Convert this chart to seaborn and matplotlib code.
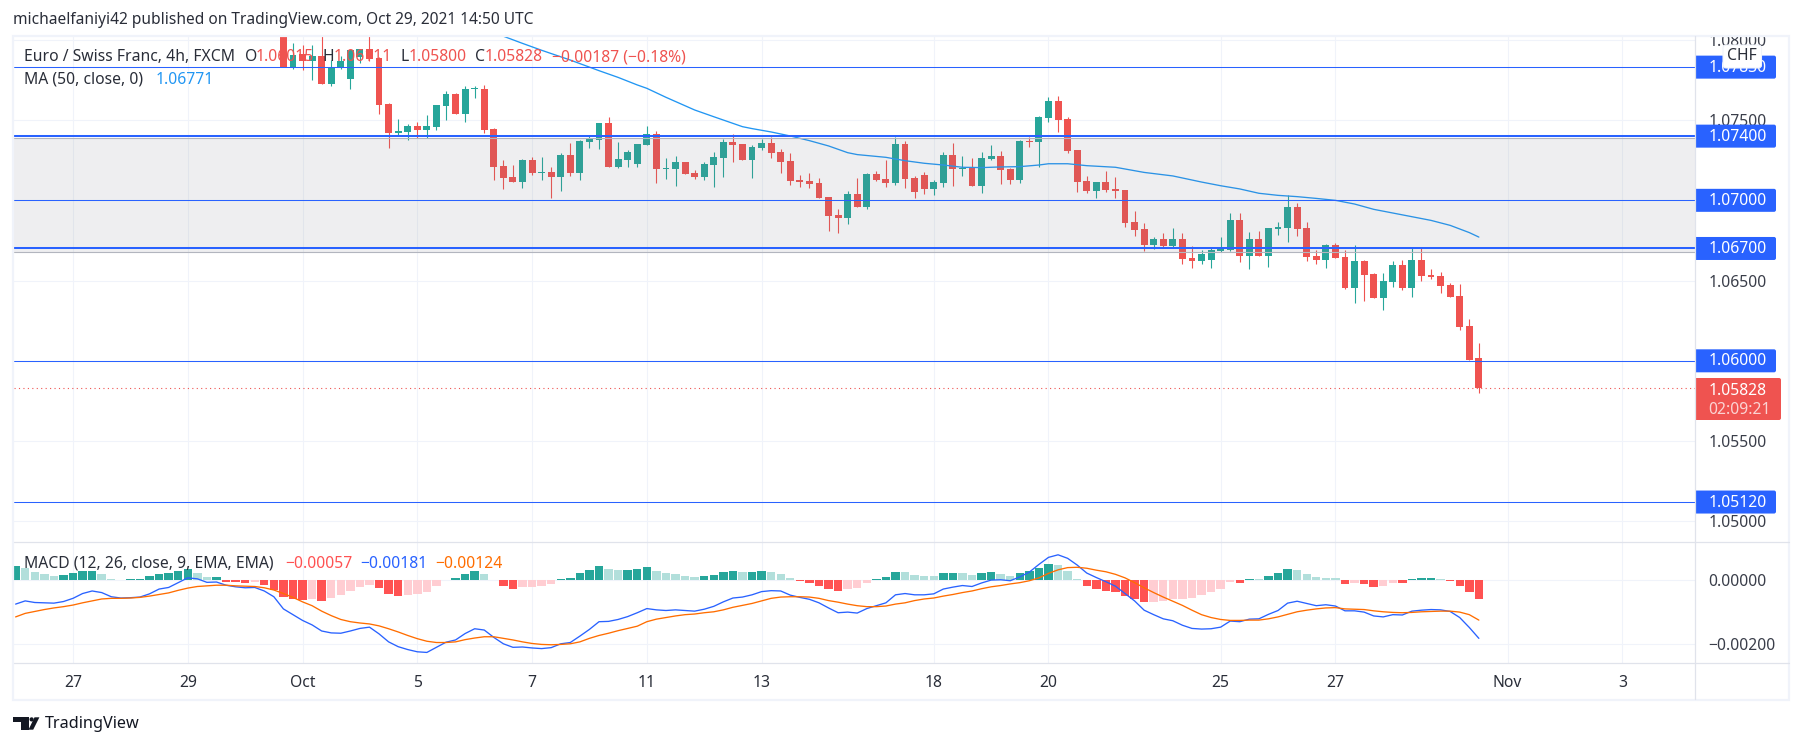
import numpy as np
import pandas as pd
import matplotlib
matplotlib.use("Agg")
import matplotlib.pyplot as plt
import seaborn as sns
from matplotlib.patches import Rectangle, FancyBboxPatch, Polygon, Circle
from matplotlib.transforms import Bbox

# 4h candles, bar number 0 is the start of Sep 27
candle_first_bar = 22
candle_open = [
    1.08124, 1.07829, 1.07910, 1.07868, 1.07899, 1.07727, 1.07827, 1.07758, 1.07895, 1.07941,
    1.07887, 1.07600, 1.07420, 1.07426, 1.07463, 1.07438, 1.07457, 1.07588, 1.07663, 1.07538,
    1.07692, 1.07694, 1.07444, 1.07214, 1.07145, 1.07114, 1.07251, 1.07170, 1.07177, 1.07145,
    1.07282, 1.07170, 1.07363, 1.07376, 1.07482, 1.07208, 1.07251, 1.07226, 1.07345, 1.07413,
    1.07195, 1.07195, 1.07239, 1.07170, 1.07145, 1.07220, 1.07264, 1.07363, 1.07351, 1.07251,
    1.07326, 1.07357, 1.07301, 1.07245, 1.07127, 1.07120, 1.07108, 1.07021, 1.06909, 1.06890,
    1.07039, 1.06958, 1.07164, 1.07133, 1.07108, 1.07351, 1.07139, 1.07158, 1.07071, 1.07108,
    1.07282, 1.07195, 1.07201, 1.07089, 1.07258, 1.07276, 1.07195, 1.07127, 1.07370, 1.07363,
    1.07513, 1.07619, 1.07507, 1.07314, 1.07120, 1.07058, 1.07114, 1.07071, 1.07064, 1.06865,
    1.06821, 1.06722, 1.06759, 1.06715, 1.06759, 1.06641, 1.06622, 1.06628, 1.06684, 1.06691,
    1.06877, 1.06653, 1.06759, 1.06653, 1.06821, 1.06828, 1.06958, 1.06828, 1.06653, 1.06628,
    1.06722, 1.06647, 1.06454, 1.06622, 1.06541, 1.06391, 1.06491, 1.06597, 1.06454, 1.06628,
    1.06535, 1.06529, 1.06472, 1.06404, 1.06217, 1.06015,
]
candle_high = [
    1.08165, 1.07978, 1.07968, 1.07968, 1.08041, 1.07874, 1.07899, 1.07937, 1.07941, 1.08041,
    1.07891, 1.07604, 1.07507, 1.07476, 1.07488, 1.07532, 1.07594, 1.07681, 1.07669, 1.07712,
    1.07712, 1.07719, 1.07451, 1.07251, 1.07220, 1.07258, 1.07270, 1.07270, 1.07208, 1.07295,
    1.07357, 1.07376, 1.07401, 1.07482, 1.07519, 1.07363, 1.07314, 1.07351, 1.07463, 1.07432,
    1.07264, 1.07276, 1.07239, 1.07189, 1.07239, 1.07301, 1.07382, 1.07413, 1.07351, 1.07345,
    1.07382, 1.07395, 1.07320, 1.07295, 1.07158, 1.07170, 1.07139, 1.07021, 1.06946, 1.07058,
    1.07139, 1.07170, 1.07183, 1.07251, 1.07395, 1.07370, 1.07152, 1.07177, 1.07127, 1.07301,
    1.07357, 1.07276, 1.07264, 1.07301, 1.07345, 1.07307, 1.07201, 1.07376, 1.07395, 1.07525,
    1.07642, 1.07650, 1.07519, 1.07314, 1.07152, 1.07114, 1.07183, 1.07145, 1.07064, 1.06934,
    1.06859, 1.06772, 1.06796, 1.06828, 1.06796, 1.06715, 1.06691, 1.06709, 1.06772, 1.06921,
    1.06921, 1.06803, 1.06809, 1.06828, 1.06865, 1.07033, 1.06983, 1.06865, 1.06691, 1.06728,
    1.06734, 1.06691, 1.06722, 1.06628, 1.06547, 1.06547, 1.06622, 1.06628, 1.06709, 1.06709,
    1.06572, 1.06553, 1.06485, 1.06479, 1.06261, 1.06111,
]
candle_low = [
    1.07829, 1.07816, 1.07812, 1.07750, 1.07727, 1.07714, 1.07818, 1.07696, 1.07854, 1.07868,
    1.07540, 1.07328, 1.07407, 1.07378, 1.07390, 1.07390, 1.07438, 1.07501, 1.07538, 1.07488,
    1.07638, 1.07422, 1.07127, 1.07071, 1.07114, 1.07077, 1.07158, 1.07127, 1.07015, 1.07058,
    1.07154, 1.07127, 1.07326, 1.07320, 1.07208, 1.07201, 1.07208, 1.07208, 1.07345, 1.07108,
    1.07133, 1.07089, 1.07164, 1.07133, 1.07127, 1.07083, 1.07145, 1.07239, 1.07251, 1.07139,
    1.07314, 1.07264, 1.07170, 1.07096, 1.07083, 1.07077, 1.07015, 1.06809, 1.06796, 1.06853,
    1.06958, 1.06946, 1.07120, 1.07083, 1.07096, 1.07077, 1.07015, 1.07039, 1.07033, 1.07083,
    1.07089, 1.07152, 1.07089, 1.07046, 1.07251, 1.07102, 1.07102, 1.07108, 1.07332, 1.07210,
    1.07488, 1.07426, 1.07295, 1.07052, 1.07046, 1.07015, 1.07052, 1.07015, 1.06834, 1.06778,
    1.06684, 1.06697, 1.06703, 1.06703, 1.06603, 1.06578, 1.06603, 1.06578, 1.06678, 1.06684,
    1.06616, 1.06572, 1.06653, 1.06585, 1.06784, 1.06740, 1.06778, 1.06622, 1.06603, 1.06578,
    1.06641, 1.06448, 1.06360, 1.06373, 1.06391, 1.06317, 1.06460, 1.06441, 1.06398, 1.06497,
    1.06510, 1.06423, 1.06398, 1.06192, 1.06005, 1.05800,
]
candle_close = [
    1.07829, 1.07906, 1.07868, 1.07899, 1.07727, 1.07827, 1.07868, 1.07937, 1.07941, 1.07881,
    1.07594, 1.07420, 1.07430, 1.07463, 1.07438, 1.07463, 1.07594, 1.07663, 1.07538, 1.07694,
    1.07698, 1.07438, 1.07208, 1.07139, 1.07114, 1.07251, 1.07170, 1.07177, 1.07145, 1.07282,
    1.07170, 1.07370, 1.07382, 1.07482, 1.07208, 1.07258, 1.07301, 1.07351, 1.07413, 1.07195,
    1.07201, 1.07239, 1.07164, 1.07145, 1.07226, 1.07270, 1.07363, 1.07345, 1.07251, 1.07332,
    1.07357, 1.07295, 1.07239, 1.07120, 1.07114, 1.07102, 1.07015, 1.06902, 1.06890, 1.07039,
    1.06958, 1.07164, 1.07127, 1.07108, 1.07351, 1.07133, 1.07052, 1.07071, 1.07114, 1.07282,
    1.07195, 1.07204, 1.07089, 1.07264, 1.07276, 1.07189, 1.07127, 1.07370, 1.07363, 1.07519,
    1.07619, 1.07501, 1.07307, 1.07114, 1.07058, 1.07114, 1.07064, 1.07058, 1.06859, 1.06815,
    1.06722, 1.06759, 1.06715, 1.06759, 1.06634, 1.06622, 1.06666, 1.06691, 1.06709, 1.06877,
    1.06653, 1.06759, 1.06653, 1.06828, 1.06834, 1.06958, 1.06821, 1.06647, 1.06628, 1.06722,
    1.06641, 1.06454, 1.06622, 1.06535, 1.06391, 1.06497, 1.06597, 1.06454, 1.06628, 1.06529,
    1.06522, 1.06466, 1.06398, 1.06211, 1.06005, 1.05828,
]

ma_bars = [44, 47, 49, 52, 55, 57, 59, 60, 62, 65, 67, 70, 71, 73, 75, 77, 79, 81, 82, 85, 87, 89,
           91, 93, 95, 97, 99, 101, 102, 104, 106, 109, 112, 115, 118, 120, 122, 124, 126, 128,
           130, 132, 134, 136, 138, 140, 142, 144, 146, 147]
ma_values = [1.08045, 1.07978, 1.07935, 1.07874, 1.07808, 1.07766, 1.07719, 1.07698, 1.07642,
             1.07563, 1.07521, 1.07459, 1.07447, 1.07426, 1.07401, 1.07372, 1.07339, 1.07297,
             1.07285, 1.07268, 1.07247, 1.07231, 1.07220, 1.07206, 1.07204, 1.07208, 1.07210,
             1.07220, 1.07228, 1.07228, 1.07216, 1.07206, 1.07174, 1.07152, 1.07114, 1.07091,
             1.07071, 1.07044, 1.07031, 1.07023, 1.07012, 1.07000, 1.06977, 1.06944, 1.06921,
             1.06898, 1.06875, 1.06844, 1.06799, 1.06771]

# MACD pane, in units of 0.00001, bars -6 to 147
macd_first_bar = -6
macd_line = [
    -74, -64, -69, -70, -71, -66, -56, -41, -33, -38,
    -51, -55, -54, -52, -42, -27, -22, -7, 8, 5,
    -6, -5, -15, -20, -23, -22, -33, -51, -89, -107,
    -125, -139, -158, -164, -165, -158, -150, -146, -167, -192,
    -207, -216, -223, -225, -209, -193, -186, -166, -151, -155,
    -178, -198, -209, -208, -211, -213, -210, -198, -194, -174,
    -153, -129, -128, -122, -113, -101, -88, -92, -94, -92,
    -94, -96, -90, -81, -67, -55, -52, -45, -35, -32,
    -33, -46, -53, -59, -70, -86, -101, -99, -102, -88,
    -79, -70, -45, -41, -45, -45, -42, -27, -21, -16,
    -19, -8, 1, 2, -1, 11, 26, 50, 72, 80,
    69, 48, 23, 9, -4, -18, -41, -64, -93, -107,
    -120, -126, -140, -150, -152, -151, -146, -127, -129, -121,
    -120, -106, -94, -71, -65, -72, -79, -76, -80, -95,
    -95, -99, -111, -114, -107, -108, -96, -93, -91, -92,
    -97, -116, -147, -181,
]
signal_line = [
    -114, -103, -97, -91, -86, -82, -77, -70, -64, -58,
    -56, -56, -55, -53, -49, -44, -39, -31, -24, -19,
    -17, -15, -15, -17, -18, -19, -23, -30, -41, -53,
    -67, -79, -96, -110, -122, -129, -133, -136, -142, -151,
    -161, -172, -182, -190, -194, -194, -192, -185, -180, -176,
    -176, -181, -186, -192, -197, -200, -201, -200, -198, -192,
    -181, -172, -165, -157, -150, -143, -129, -121, -116, -111,
    -107, -105, -101, -98, -92, -84, -78, -72, -64, -56,
    -52, -51, -51, -52, -56, -63, -68, -74, -79, -82,
    -82, -80, -74, -70, -63, -58, -55, -49, -44, -38,
    -33, -26, -20, -16, -11, -7, -1, 8, 22, 33,
    40, 41, 38, 32, 27, 19, 8, -7, -23, -38,
    -52, -65, -78, -93, -107, -116, -122, -125, -125, -124,
    -124, -120, -114, -106, -98, -93, -89, -86, -85, -89,
    -90, -91, -95, -98, -100, -101, -100, -98, -97, -96,
    -96, -99, -107, -124,
]
histogram = [
    45, 39, 27, 20, 14, 17, 23, 29, 29, 20,
    4, 1, 4, 4, 14, 20, 23, 29, 35, 23,
    10, 10, -4, -6, -8, -6, -15, -29, -52, -58,
    -61, -58, -65, -55, -46, -33, -21, -15, -24, -43,
    -49, -46, -43, -36, -18, 1, 7, 20, 29, 20,
    1, -18, -27, -21, -21, -18, -11, 4, 7, 23,
    32, 45, 35, 32, 32, 35, 42, 29, 23, 20,
    14, 10, 14, 17, 26, 29, 26, 26, 29, 26,
    20, 7, -2, -8, -18, -27, -33, -27, -24, -8,
    4, 10, 26, 25, 17, 14, 13, 23, 23, 22,
    17, 23, 26, 20, 14, 23, 29, 39, 51, 48,
    29, 4, -18, -27, -33, -36, -49, -58, -68, -68,
    -65, -58, -58, -55, -46, -36, -27, -5, -8, 4,
    3, 14, 23, 35, 32, 20, 10, 9, 7, -11,
    -8, -11, -21, -18, -8, -9, 4, 7, 7, 4,
    -2, -18, -36, -57,
]

# drawn levels and axes
level_thin = [1.07830, 1.07000, 1.06000, 1.05120]
level_thick = [1.07400, 1.06700]
level_tags = ["1.07830", "1.07400", "1.07000", "1.06700", "1.06000", "1.05120"]
zone_top = 1.07386
zone_bottom = 1.06675
last_close = 1.05828
price_ticks = [1.08, 1.075, 1.07, 1.065, 1.06, 1.055, 1.05]
macd_ticks = [0, -200]
date_bars = [0, 12, 24, 36, 48, 60, 72, 90, 102, 120, 132, 150, 162]
date_labels = ["27", "29", "Oct", "5", "7", "11", "13", "18", "20", "25", "27", "Nov", "3"]

W, H = 1802, 747
UP = "#26A69A"
DOWN = "#EF5350"
BLUE = "#2962FF"
GRID = "#F0F3FA"
BORDER = "#E0E3EB"
TEXT = "#2A2E39"
FS = 11.3

sns.set_theme(style="white")
plt.rcParams["font.family"] = ["Noto Sans", "DejaVu Sans"]


def pane(left, top, right, bottom):
    return fig.add_axes([left / W, 1 - bottom / H, (right - left) / W, (bottom - top) / H])


fig = plt.figure(figsize=(W / 100, H / 100), dpi=100)
ax = pane(14, 36, 1695, 542)
ax2 = pane(14, 542, 1695, 663)
bar_lim = (-6.17, 169.6)

# candles
bars = np.arange(candle_first_bar, candle_first_bar + len(candle_open))
opens = np.array(candle_open)
closes = np.array(candle_close)
colors = [UP if c >= o else DOWN for o, c in zip(candle_open, candle_close)]
ax.vlines(bars, candle_low, candle_high, colors=colors, linewidth=0.8, zorder=2)
ax.bar(bars, np.maximum(np.abs(closes - opens), 0.00005), bottom=np.minimum(opens, closes),
       width=0.72, color=colors, linewidth=0, zorder=2)

sns.lineplot(x=ma_bars, y=ma_values, color="#2196F3", linewidth=0.95, sort=False, ax=ax, zorder=3)

# grey zone sits over the candles
ax.axhspan(zone_bottom, zone_top, color="#787B86", alpha=0.12, linewidth=0, zorder=4)
for level in (zone_top, zone_bottom):
    ax.axhline(level, color="#B2B5BE", linewidth=0.8, zorder=5)
for level in level_thin:
    ax.axhline(level, color=BLUE, linewidth=0.75, zorder=6)
for level in level_thick:
    ax.axhline(level, color=BLUE, linewidth=1.45, zorder=6)
ax.axhline(last_close, color=DOWN, linewidth=0.8, linestyle=(0, (1, 3)), zorder=6)

ax.set_xlim(*bar_lim)
ax.set_ylim(1.04871, 1.08024)
ax.set_xticks(date_bars)
ax.set_xticklabels([])
ax.set_yticks(price_ticks)
ax.set_yticklabels([f"{p:.5f}" for p in price_ticks])

# MACD pane
hist_df = pd.DataFrame({"bar": np.arange(macd_first_bar, macd_first_bar + len(histogram)),
                        "value": np.array(histogram) / 1e5})
prev = hist_df["value"].shift(1).fillna(hist_df["value"])
hist_df["kind"] = np.where(hist_df["value"] >= 0,
                           np.where(hist_df["value"] >= prev, "up_strong", "up_weak"),
                           np.where(hist_df["value"] >= prev, "down_weak", "down_strong"))
palette = {"up_strong": UP, "up_weak": "#B2DFDB", "down_strong": "#FF5252", "down_weak": "#FFCDD2"}
sns.barplot(data=hist_df, x="bar", y="value", hue="kind", palette=palette, native_scale=True,
            dodge=False, width=0.88, errorbar=None, legend=False, saturation=1, linewidth=0, ax=ax2,
            zorder=2)
sns.lineplot(x=hist_df["bar"], y=np.array(macd_line) / 1e5, color=BLUE, linewidth=0.95, sort=False,
             ax=ax2, zorder=3)
sns.lineplot(x=hist_df["bar"], y=np.array(signal_line) / 1e5, color="#FF6D00", linewidth=0.95,
             sort=False, ax=ax2, zorder=4)
ax2.set_xlim(*bar_lim)
ax2.set_ylim(-0.00258, 0.00120)
ax2.set_xlabel("")
ax2.set_ylabel("")
ax2.set_xticks(date_bars)
ax2.set_xticklabels(date_labels)
ax2.set_yticks([t / 1e5 for t in macd_ticks])
ax2.set_yticklabels(["0.00000", "\u22120.00200"])
for lab in ax2.get_xticklabels():
    if lab.get_text() in ("Oct", "Nov"):
        lab.set_fontweight("bold")

clip = Bbox([[1695, 0], [1789, H - 36]])
for a in (ax, ax2):
    a.set_facecolor("none")
    a.grid(True, color=GRID, linewidth=0.8)
    a.set_axisbelow(True)
    a.yaxis.tick_right()
    a.tick_params(axis="y", length=0, pad=9.8, labelsize=FS, labelcolor="#3A3E4A")
    a.tick_params(axis="x", length=0, pad=8.5, labelsize=FS, labelcolor=TEXT)
    for spine in a.spines.values():
        spine.set_visible(False)
for lab in ax.get_yticklabels():
    lab.set_clip_on(True)
    lab.set_clip_box(clip)

# overlay in pixels for borders, tags, legends and the logo
ov = fig.add_axes([0, 0, 1, 1])
ov.set_xlim(0, W)
ov.set_ylim(H, 0)
ov.axis("off")
ov.set_zorder(10)
ov.patch.set_alpha(0)

ov.add_patch(Rectangle((13, 35.5), 1776, 664.5, fill=False, edgecolor=GRID, linewidth=1.6))
ov.plot([14, 1789], [542, 542], color=BORDER, linewidth=0.9)
ov.plot([14, 1789], [663, 663], color=BORDER, linewidth=0.9)
ov.plot([1695, 1695], [36, 699], color=BORDER, linewidth=0.9)


def price_y(price):
    return H - ax.transData.transform((0, price))[1]


def tag(y0, y1, right, color):
    box = FancyBboxPatch((1690, y0), right - 1690, y1 - y0, boxstyle="round,pad=0,rounding_size=2",
                         facecolor=color, edgecolor="none", mutation_aspect=1)
    ov.add_patch(box)
    box.set_clip_path(Rectangle((1695, 0), 200, H, transform=ov.transData))


for text, level in zip(level_tags, [1.07830, 1.07400, 1.07000, 1.06700, 1.06000, 1.05120]):
    y = price_y(level)
    tag(y - 11.5, y + 11.5, 1776, BLUE)
    ov.text(1708.6, y + 0.5, text, color="white", fontsize=FS, va="center", ha="left")

tag(378, 420, 1781, DOWN)
ov.text(1708.6, 390.7, "1.05828", color="white", fontsize=FS, va="center", ha="left")
ov.text(1708.6, 410, "02:09:21", color="white", alpha=0.75, fontsize=FS, va="center", ha="left")

ov.add_patch(FancyBboxPatch((1723, 45), 38.5, 23, boxstyle="round,pad=0,rounding_size=3",
                            facecolor="white", edgecolor=GRID, linewidth=0.8, zorder=5))
ov.text(1742, 56.5, "CHF", color=TEXT, fontsize=FS, va="center", ha="center", zorder=6)

ov.text(13, 20.5, "michaelfaniyi42 published on TradingView.com, Oct 29, 2021 14:50 UTC",
        color=TEXT, fontsize=11.15, va="center", ha="left")

legend_items = [
    (24, 57, "Euro / Swiss Franc, 4h, FXCM", TEXT), (245, 57, "O", TEXT), (256, 57, "1.06015", DOWN),
    (323, 57, "H", TEXT), (334, 57, "1.06111", DOWN), (400, 57, "L", TEXT), (409, 57, "1.05800", DOWN),
    (475, 57, "C", TEXT), (485, 57, "1.05828", DOWN), (552, 57, "\u22120.00187 (\u22120.18%)", DOWN),
    (24, 80, "MA (50, close, 0)", TEXT), (156, 80, "1.06771", "#2196F3"),
    (24, 563.5, "MACD (12, 26, close, 9, EMA, EMA)", TEXT), (285, 563.5, "\u22120.00057", "#FF5252"),
    (360, 563.5, "\u22120.00181", BLUE), (435, 563.5, "\u22120.00124", "#FF6D00"),
]
for x, y, text, color in legend_items:
    ov.text(x, y, text, color=color, fontsize=FS, va="center", ha="left")

# logo
ov.add_patch(Polygon([(13.4, 717.3), (28.7, 717.3), (28.7, 729.7), (21, 729.7), (21, 721.7), (13.4, 721.7)],
                     facecolor="#131722", edgecolor="none"))
ov.add_patch(Circle((31.6, 719.4), 2.1, facecolor="#131722", edgecolor="none"))
ov.add_patch(Polygon([(28.5, 729.7), (34.5, 717.3), (39.4, 717.3), (33.2, 729.7)],
                     facecolor="#131722", edgecolor="none"))
ov.text(45, 723.5, "TradingView", color="#131722", fontsize=11.7, va="center", ha="left")

fig.savefig("out.png", dpi=100)
